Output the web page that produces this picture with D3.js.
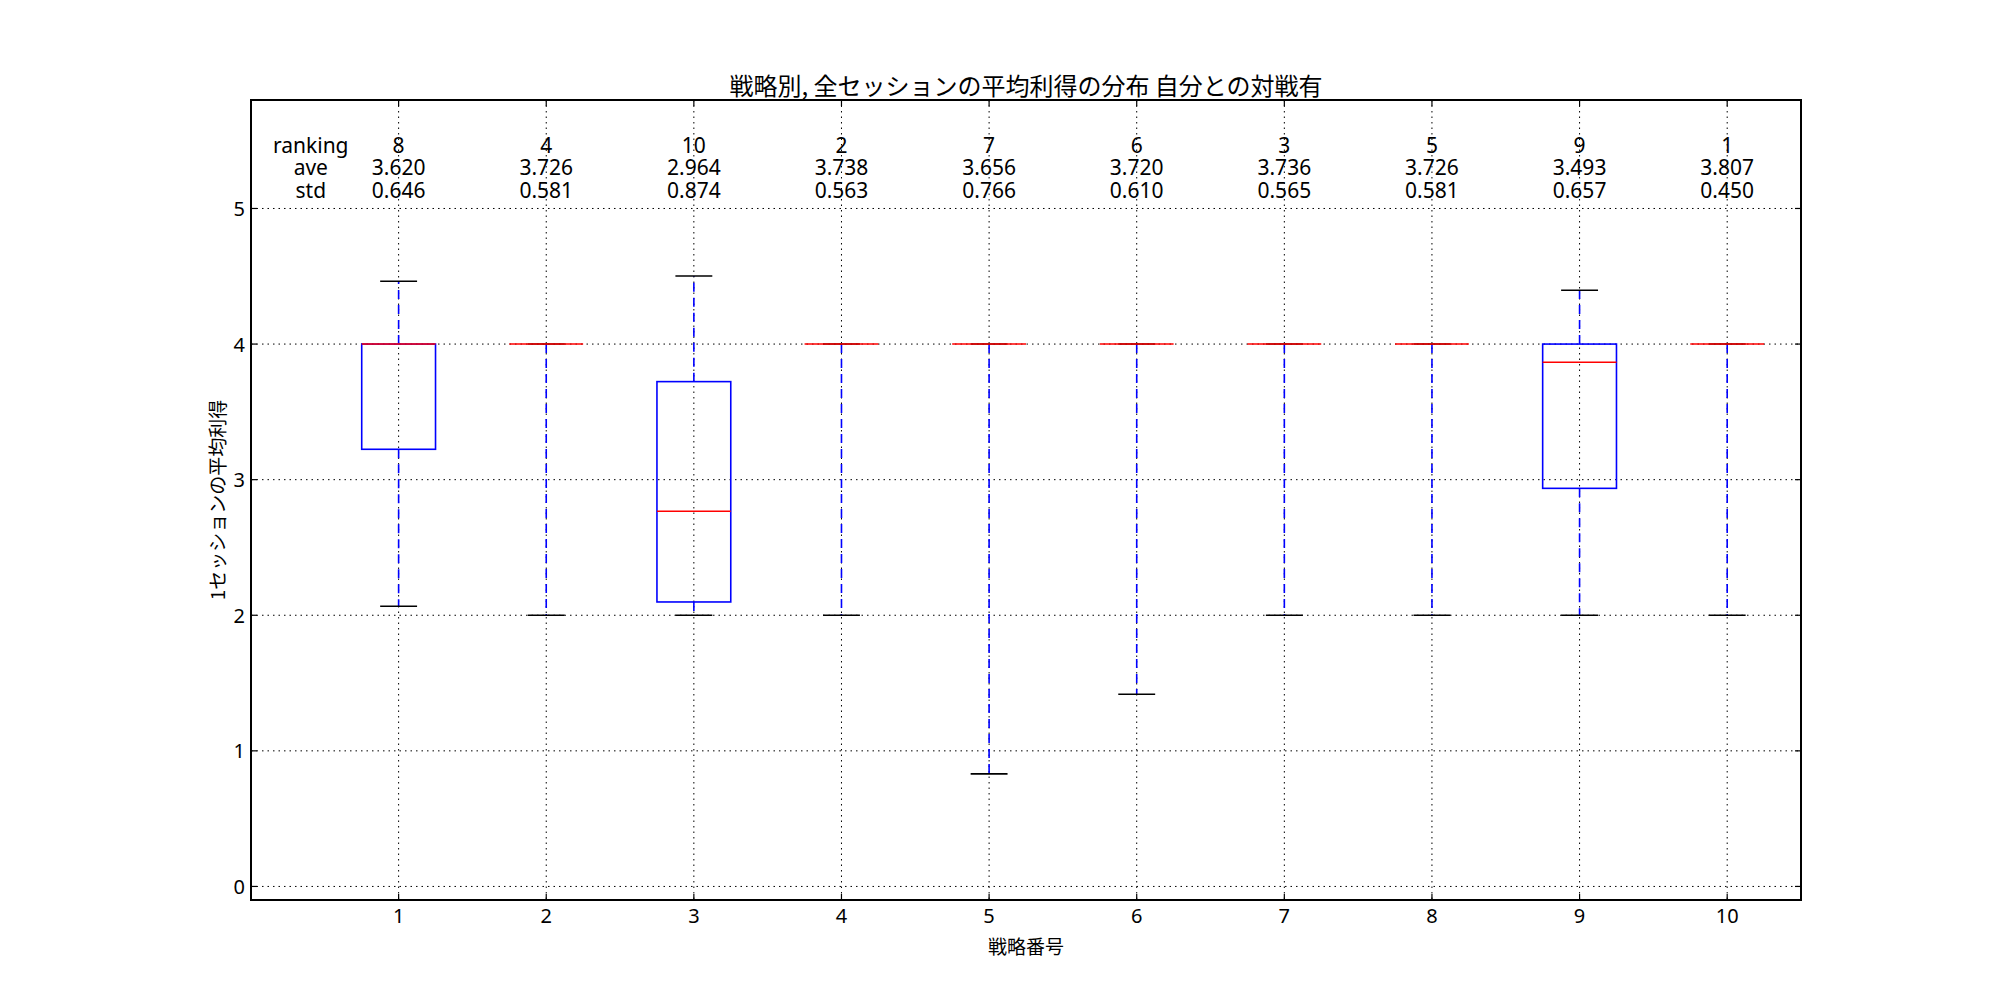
<!DOCTYPE html>
<html>
<head>
<meta charset="utf-8">
<script src="https://cdn.jsdelivr.net/npm/d3@7"></script>
<style>
  html, body { margin: 0; padding: 0; background: #fff; }
  svg { display: block; }
  text { font-family: "Noto Sans", "Noto Sans CJK JP", sans-serif; fill: #000; }
  .cjk { font-family: "Noto Sans CJK JP", "Noto Sans", sans-serif; }
</style>
</head>
<body>
<svg id="chart" width="2000" height="1000"></svg>
<script>
// ---- data ----
const strategies = [1, 2, 3, 4, 5, 6, 7, 8, 9, 10];
const whiskerLow  = [2.066, 2.0, 2.0, 2.0, 0.83, 1.417, 2.0, 2.0, 2.0, 2.0];
const q1          = [3.224, 4.0, 2.098, 4.0, 4.0, 4.0, 4.0, 4.0, 2.936, 4.0];
const median      = [4.0, 4.0, 2.767, 4.0, 4.0, 4.0, 4.0, 4.0, 3.866, 4.0];
const q3          = [4.0, 4.0, 3.723, 4.0, 4.0, 4.0, 4.0, 4.0, 4.0, 4.0];
const whiskerHigh = [4.463, 4.0, 4.502, 4.0, 4.0, 4.0, 4.0, 4.0, 4.397, 4.0];
const ranking = ["8", "4", "10", "2", "7", "6", "3", "5", "9", "1"];
const aveLabels = ["3.620", "3.726", "2.964", "3.738", "3.656", "3.720", "3.736", "3.726", "3.493", "3.807"];
const stdLabels = ["0.646", "0.581", "0.874", "0.563", "0.766", "0.610", "0.565", "0.581", "0.657", "0.450"];
const rowNames = ["ranking", "ave", "std"];
const yTicks = [0, 1, 2, 3, 4, 5];
const titleText = "戦略別, 全セッションの平均利得の分布 自分との対戦有";
const xLabelText = "戦略番号";
const yLabelText = "1セッションの平均利得";

// ---- layout ----
const svg = d3.select("#chart");
const L = 251, R = 1801, T = 100, B = 900;
const x = d3.scaleLinear().domain([0, 10.5]).range([L, R]);
const y = d3.scaleLinear().domain([-0.1, 5.8]).range([B, T]);
const boxW = 0.5, capW = 0.25;

const g = svg.append("g");

// grid
g.append("g").selectAll("line").data(strategies).join("line")
  .attr("x1", d => x(d)).attr("x2", d => x(d)).attr("y1", T).attr("y2", B)
  .attr("stroke", "#000").attr("stroke-width", 1).attr("stroke-dasharray", "1.5,4");
g.append("g").selectAll("line").data(yTicks).join("line")
  .attr("y1", d => y(d)).attr("y2", d => y(d)).attr("x1", L).attr("x2", R)
  .attr("stroke", "#000").attr("stroke-width", 1).attr("stroke-dasharray", "1.5,4");

const idx = d3.range(strategies.length);

// whiskers
g.append("g").selectAll("line").data(idx).join("line")
  .attr("x1", i => x(strategies[i])).attr("x2", i => x(strategies[i]))
  .attr("y1", i => y(q3[i])).attr("y2", i => y(whiskerHigh[i]))
  .attr("stroke", "#0000ff").attr("stroke-width", 1.6).attr("stroke-dasharray", "9,6");
g.append("g").selectAll("line").data(idx).join("line")
  .attr("x1", i => x(strategies[i])).attr("x2", i => x(strategies[i]))
  .attr("y1", i => y(q1[i])).attr("y2", i => y(whiskerLow[i]))
  .attr("stroke", "#0000ff").attr("stroke-width", 1.6).attr("stroke-dasharray", "9,6");

// caps
g.append("g").selectAll("line").data(idx).join("line")
  .attr("x1", i => x(strategies[i] - capW / 2)).attr("x2", i => x(strategies[i] + capW / 2))
  .attr("y1", i => y(whiskerHigh[i])).attr("y2", i => y(whiskerHigh[i]))
  .attr("stroke", "#000").attr("stroke-width", 1.6);
g.append("g").selectAll("line").data(idx).join("line")
  .attr("x1", i => x(strategies[i] - capW / 2)).attr("x2", i => x(strategies[i] + capW / 2))
  .attr("y1", i => y(whiskerLow[i])).attr("y2", i => y(whiskerLow[i]))
  .attr("stroke", "#000").attr("stroke-width", 1.6);

// boxes
g.append("g").selectAll("rect").data(idx).join("rect")
  .attr("x", i => x(strategies[i] - boxW / 2))
  .attr("width", i => x(strategies[i] + boxW / 2) - x(strategies[i] - boxW / 2))
  .attr("y", i => y(q3[i]))
  .attr("height", i => Math.max(0, y(q1[i]) - y(q3[i])))
  .attr("fill", "none").attr("stroke", "#0000ff").attr("stroke-width", 1.6);

// medians
g.append("g").selectAll("line").data(idx).join("line")
  .attr("x1", i => x(strategies[i] - boxW / 2)).attr("x2", i => x(strategies[i] + boxW / 2))
  .attr("y1", i => y(median[i])).attr("y2", i => y(median[i]))
  .attr("stroke", "#ff0000").attr("stroke-width", 1.6);

// stats text: one multi-line text block per column
const lineGap = 22.6;
const firstRowY = y(5.47);
function block(sel, lines) {
  lines.forEach((t, r) => {
    sel.append("tspan").attr("x", sel.attr("x")).attr("y", firstRowY + r * lineGap).text(t);
  });
}
idx.forEach(i => {
  const t = g.append("text").attr("x", x(strategies[i]))
    .attr("text-anchor", "middle").attr("dominant-baseline", "central")
    .attr("font-size", 21);
  block(t, [ranking[i], aveLabels[i], stdLabels[i]]);
});
{
  const t = g.append("text").attr("x", x(0.405))
    .attr("text-anchor", "middle").attr("dominant-baseline", "central")
    .attr("font-size", 21);
  block(t, rowNames);
}

// frame
g.append("rect").attr("x", L).attr("y", T).attr("width", R - L).attr("height", B - T)
  .attr("fill", "none").attr("stroke", "#000").attr("stroke-width", 2);

// ticks (inward, all sides)
const tl = 6;
const tk = g.append("g").attr("stroke", "#000").attr("stroke-width", 1.2);
strategies.forEach(d => {
  tk.append("line").attr("x1", x(d)).attr("x2", x(d)).attr("y1", B).attr("y2", B - tl);
  tk.append("line").attr("x1", x(d)).attr("x2", x(d)).attr("y1", T).attr("y2", T + tl);
});
yTicks.forEach(d => {
  tk.append("line").attr("y1", y(d)).attr("y2", y(d)).attr("x1", L).attr("x2", L + tl);
  tk.append("line").attr("y1", y(d)).attr("y2", y(d)).attr("x1", R).attr("x2", R - tl);
});

// tick labels
g.append("g").selectAll("text").data(strategies).join("text")
  .attr("x", d => x(d)).attr("y", 915)
  .attr("text-anchor", "middle").attr("dominant-baseline", "central")
  .attr("font-size", 20).text(d => d);
g.append("g").selectAll("text").data(yTicks).join("text")
  .attr("x", L - 6).attr("y", d => y(d))
  .attr("text-anchor", "end").attr("dominant-baseline", "central")
  .attr("font-size", 20).text(d => d);

// title and axis labels
svg.append("text").attr("class", "cjk").attr("x", (L + R) / 2).attr("y", 84)
  .attr("text-anchor", "middle").attr("dominant-baseline", "central")
  .attr("font-size", 24).text(titleText);
svg.append("text").attr("class", "cjk").attr("x", (L + R) / 2).attr("y", 945)
  .attr("text-anchor", "middle").attr("dominant-baseline", "central")
  .attr("font-size", 19).text(xLabelText);
svg.append("text").attr("class", "cjk").attr("transform", `translate(216, ${(T + B) / 2}) rotate(-90)`)
  .attr("text-anchor", "middle").attr("dominant-baseline", "central")
  .attr("font-size", 19).text(yLabelText);
</script>
</body>
</html>
